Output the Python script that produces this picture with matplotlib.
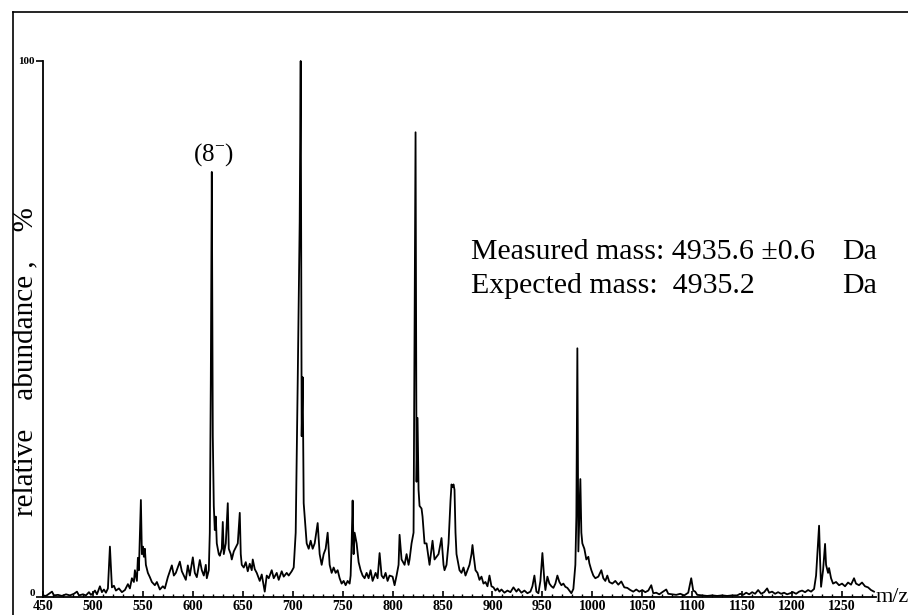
import matplotlib.pyplot as plt
import matplotlib.transforms as mtransforms
from matplotlib.lines import Line2D

plt.rcParams['font.family'] = ['Liberation Serif', 'DejaVu Serif']
plt.rcParams['mathtext.fontset'] = 'custom'
plt.rcParams['mathtext.rm'] = 'Liberation Serif'

# spectrum: m/z and relative abundance (%)
mz = [450, 453, 456, 459, 461, 465, 469, 473, 477, 481, 484, 486, 490, 493, 496, 498,
      500, 502, 504, 507, 509, 511, 513, 515, 517, 519, 521, 523, 526, 529, 532, 535,
      537, 539, 541, 542, 544, 545, 546, 548, 549, 550, 551, 552, 553, 555, 557, 559,
      562, 564, 567, 570, 572, 575, 579, 581, 583, 587, 589, 591, 593, 595, 597, 600,
      602, 604, 607, 609, 611, 613, 614, 616, 617, 618, 619, 620, 621, 622, 623, 624,
      626, 627, 629, 630, 631, 633, 635, 636, 638, 639, 641, 645, 647, 648, 649, 651,
      653, 655, 657, 659, 660, 662, 664, 667, 669, 672, 674, 676, 679, 681, 684, 686,
      689, 691, 694, 696, 699, 701, 703, 705, 707, 708, 709, 710, 711, 712, 714, 716,
      718, 720, 722, 725, 727, 729, 731, 733, 735, 737, 739, 741, 743, 745, 747, 749,
      751, 753, 755, 757, 758, 759, 760, 761, 762, 764, 766, 768, 770, 772, 774, 776,
      778, 780, 783, 785, 787, 789, 791, 793, 795, 797, 800, 802, 804, 806, 807, 809,
      812, 814, 816, 817, 819, 821, 822, 823, 824, 825, 826, 827, 829, 830, 832, 834,
      837, 840, 842, 844, 846, 849, 851, 852, 854, 856, 858, 859, 860, 861, 862, 863,
      864, 866, 867, 869, 871, 873, 875, 877, 879, 880, 881, 883, 885, 887, 889, 891,
      893, 895, 897, 899, 901, 903, 905, 907, 909, 912, 915, 918, 921, 924, 926, 929,
      932, 935, 938, 940, 942, 944, 946, 948, 950, 952, 953, 955, 957, 959, 961, 963,
      965, 967, 969, 971, 973, 975, 977, 979, 981, 983, 984, 985, 986, 987, 988, 989,
      990, 992, 994, 996, 997, 999, 1001, 1003, 1006, 1009, 1011, 1013, 1015, 1017, 1020, 1023,
      1026, 1029, 1032, 1035, 1038, 1041, 1044, 1047, 1050, 1053, 1056, 1059, 1061, 1064, 1067, 1070,
      1074, 1076, 1080, 1084, 1088, 1092, 1096, 1099, 1101, 1103, 1105, 1110, 1115, 1120, 1125, 1130,
      1135, 1140, 1145, 1148, 1151, 1154, 1157, 1160, 1163, 1166, 1169, 1172, 1175, 1177, 1180, 1183,
      1186, 1189, 1192, 1195, 1198, 1201, 1204, 1207, 1210, 1213, 1216, 1219, 1222, 1224, 1226, 1227,
      1228, 1229, 1231, 1233, 1234, 1236, 1237, 1239, 1241, 1244, 1247, 1250, 1253, 1256, 1259, 1262,
      1264, 1267, 1270, 1273, 1276, 1279, 1282]
abundance = [0.3, 0.2, 0.6, 1.0, 0.3, 0.4, 0.2, 0.5, 0.3, 0.6, 1.0, 0.3, 0.5, 0.3, 0.9, 0.4,
             0.7, 1.2, 0.5, 2.0, 0.9, 1.4, 0.8, 1.6, 9.4, 1.8, 2.1, 1.2, 1.6, 0.9, 1.3, 2.4,
             1.6, 3.5, 2.8, 5.0, 3.0, 7.3, 5.0, 18.1, 8.0, 9.4, 7.5, 9.0, 6.0, 4.5, 3.7, 2.8,
             2.2, 2.8, 1.4, 2.0, 1.6, 3.7, 5.9, 4.0, 4.5, 6.6, 4.8, 4.0, 3.2, 5.9, 4.0, 7.4,
             4.5, 3.7, 6.9, 5.0, 4.0, 6.0, 3.5, 5.0, 12.0, 40.0, 79.3, 30.0, 17.0, 12.5, 15.0, 10.0,
             8.0, 7.7, 9.0, 14.0, 8.0, 10.0, 17.5, 9.0, 8.0, 7.0, 8.5, 10.0, 15.7, 8.0, 6.0, 5.5,
             6.5, 4.8, 6.2, 5.0, 7.0, 5.2, 4.5, 3.0, 4.2, 1.0, 4.0, 3.5, 5.0, 3.5, 4.5, 3.2,
             4.8, 3.8, 4.5, 4.0, 4.8, 5.5, 12.0, 40.0, 70.0, 100.0, 30.0, 41.0, 17.5, 15.0, 10.0, 9.0,
             10.5, 9.0, 10.0, 13.8, 8.0, 6.0, 8.0, 9.0, 12.0, 6.0, 4.5, 5.5, 4.5, 5.0, 3.5, 2.5,
             3.0, 2.2, 3.0, 2.5, 4.0, 10.0, 18.0, 8.0, 12.0, 10.0, 6.5, 5.0, 4.0, 3.5, 4.5, 3.5,
             5.0, 3.0, 4.5, 3.5, 8.2, 4.0, 3.5, 4.5, 3.0, 4.0, 3.8, 2.2, 4.0, 6.0, 11.6, 7.0,
             6.0, 8.0, 6.0, 7.0, 10.0, 12.0, 50.0, 86.7, 21.5, 33.4, 20.0, 17.0, 16.5, 15.0, 10.0, 10.0,
             6.0, 10.5, 7.0, 7.5, 8.0, 11.0, 6.0, 5.0, 6.0, 10.0, 18.0, 21.0, 20.5, 21.0, 20.0, 12.0,
             8.0, 6.0, 5.0, 4.5, 5.5, 4.0, 5.0, 6.0, 8.0, 9.7, 8.0, 5.0, 4.5, 3.2, 3.8, 2.5,
             2.8, 2.0, 4.0, 2.0, 1.8, 1.2, 1.6, 1.0, 1.4, 0.8, 1.2, 0.9, 1.8, 1.0, 1.5, 0.8,
             1.2, 0.7, 1.0, 2.0, 4.0, 1.0, 0.7, 3.0, 8.2, 3.0, 1.3, 3.8, 2.5, 2.0, 1.7, 2.5,
             4.0, 2.8, 2.2, 2.5, 1.9, 1.7, 1.2, 0.7, 1.5, 6.0, 15.0, 46.4, 8.5, 15.0, 22.0, 12.0,
             10.0, 9.0, 7.0, 7.5, 6.3, 5.0, 4.0, 3.5, 3.8, 5.0, 3.5, 3.0, 4.0, 2.8, 2.5, 3.0,
             2.3, 2.9, 1.8, 1.7, 1.3, 1.0, 1.4, 1.0, 1.3, 0.9, 1.2, 2.2, 0.7, 0.8, 0.5, 0.9,
             1.4, 0.6, 0.5, 0.4, 0.6, 0.3, 0.8, 3.5, 1.2, 1.0, 0.4, 0.3, 0.2, 0.3, 0.2, 0.3,
             0.2, 0.3, 0.3, 0.6, 0.4, 0.8, 0.5, 0.9, 0.6, 1.3, 0.6, 0.9, 1.6, 0.8, 1.0, 0.6,
             0.9, 0.6, 0.8, 0.5, 0.7, 0.9, 0.6, 1.0, 1.2, 0.9, 1.3, 1.0, 1.5, 4.0, 10.0, 13.3,
             7.0, 1.9, 5.0, 9.9, 6.0, 4.5, 5.4, 3.5, 2.5, 2.8, 2.2, 2.5, 2.0, 2.7, 2.3, 3.5,
             2.5, 2.2, 2.7, 2.0, 1.8, 1.3, 1.0]

x_ticks = [450, 500, 550, 600, 650, 700, 750, 800, 850, 900, 950, 1000, 1050, 1100, 1150, 1200, 1250]
y_ticks = [0, 100]
peak_label = "(8$^{-}$)"
peak_mz = 621
info_rows = [("Measured mass: 4935.6 \u00b10.6", "Da"),
             ("Expected mass:  4935.2", "Da")]

fig = plt.figure(figsize=(9.08, 6.15), dpi=100)
ax = fig.add_axes([43 / 908, 18 / 615, 833 / 908, 536 / 615])

ax.plot(mz, abundance, color='black', lw=1.3, clip_on=False)

ax.set_xlim(450, 1284)
ax.set_ylim(0, 100)
ax.spines['top'].set_visible(False)
ax.spines['right'].set_visible(False)
ax.spines['left'].set_linewidth(1.3)
ax.spines['bottom'].set_linewidth(1.3)

ax.set_xticks(x_ticks)
ax.set_xticks(range(460, 1284, 10), minor=True)
ax.tick_params(axis='x', which='major', direction='in', length=4, width=1.2, pad=2)
ax.tick_params(axis='x', which='minor', direction='in', length=2, width=1)
ax.set_xticklabels([str(t) for t in x_ticks], fontsize=10, fontweight='bold')
ax.set_yticks(y_ticks)
ax.tick_params(axis='y', direction='out', length=5, width=1.2, pad=1)
ax.set_yticklabels([str(t) for t in y_ticks], fontsize=8, fontweight='bold')
# lift the "0" label a little so it clears the 450 label
lift = mtransforms.ScaledTranslation(0, 4 / 100, fig.dpi_scale_trans)
zero_lab = ax.get_yticklabels()[0]
zero_lab.set_transform(zero_lab.get_transform() + lift)

fig.text(25 / 908, 1 - 362 / 615, "relative    abundance ,    %", fontsize=21,
         rotation=90, ha='center', va='center')

ax.text(1.0, 0.0, "m/z", transform=ax.transAxes, fontsize=16, ha='left', va='center')

ax.text(peak_mz, 82.5, peak_label, fontsize=18, ha='center', va='center')

for i, (label, unit) in enumerate(info_rows):
    yy = 63 - i * 6.3
    ax.text(472 + 407, yy, label, fontsize=21.5, va='baseline')
    ax.text(843 + 407, yy, unit, fontsize=21.5, va='baseline')

# scan frame lines
fig.add_artist(Line2D([13 / 908, 13 / 908], [0, 1 - 12 / 615], color='black', lw=1.2))
fig.add_artist(Line2D([13 / 908, 1], [1 - 12 / 615, 1 - 12 / 615], color='black', lw=1.2))

fig.savefig('out.png', dpi=100)
